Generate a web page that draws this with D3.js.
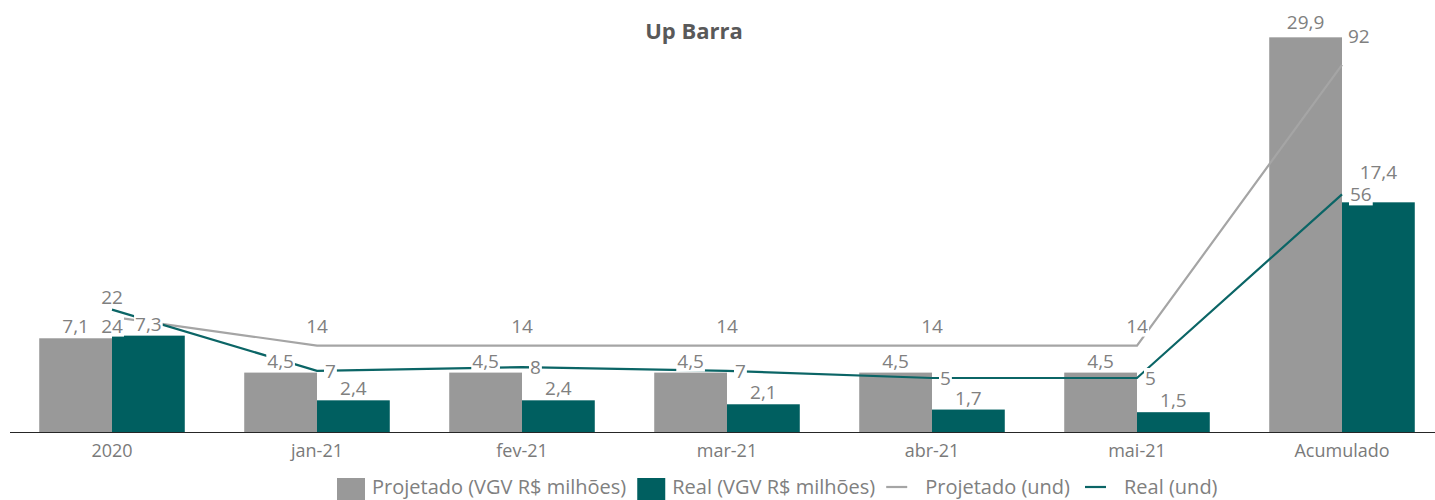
<!DOCTYPE html>
<html>
<head>
<meta charset="utf-8">
<script src="https://cdn.jsdelivr.net/npm/d3@7"></script>
<style>
  body { margin: 0; background: #fff; }
  svg text { font-family: "Open Sans", sans-serif; }
</style>
</head>
<body>
<svg width="1435" height="500"></svg>
<script>
const categories = ['2020', 'jan-21', 'fev-21', 'mar-21', 'abr-21', 'mai-21', 'Acumulado'];
const projetadoVgv = [7.1, 4.5, 4.5, 4.5, 4.5, 4.5, 29.9];
const realVgv = [7.3, 2.4, 2.4, 2.1, 1.7, 1.5, 17.4];
const projetadoUnd = [22, 14, 14, 14, 14, 14, 92];
const realUnd = [24, 7, 8, 7, 5, 5, 56];
const legendLabels = ['Projetado (VGV R$ milhões)', 'Real (VGV R$ milhões)', 'Projetado (und)', 'Real (und)'];

const svg = d3.select('svg');
const width = +svg.attr('width');

const grayBar = '#999999';
const tealBar = '#005f60';
const grayLine = '#a5a5a5';
const tealLine = '#0b6566';
const labelColor = '#808080';

const fmt = v => String(v).replace('.', ',');

const xScale = d3.scaleBand()
  .domain(categories)
  .range([9.5, 1444.5])
  .paddingInner(0.29)
  .paddingOuter(0.145);

const x1 = d3.scaleBand()
  .domain(['proj', 'real'])
  .range([0, xScale.bandwidth()]);

const yBar = d3.scaleLinear().domain([0, 30]).range([432, 36]);
const yLine = d3.scaleLinear().domain([-10, 100]).range([432, 36]);

const center = d => xScale(d) + xScale.bandwidth() / 2;

// title
svg.append('text')
  .attr('x', 694).attr('y', 39)
  .attr('text-anchor', 'middle')
  .attr('font-size', 22).attr('font-weight', 'bold')
  .attr('fill', '#595959')
  .text('Up Barra');

// bars
const g = svg.append('g');
g.selectAll('.bar-proj').data(categories).enter().append('rect')
  .attr('x', d => xScale(d) + x1('proj'))
  .attr('width', x1.bandwidth())
  .attr('y', (d, i) => yBar(projetadoVgv[i]))
  .attr('height', (d, i) => yBar(0) - yBar(projetadoVgv[i]))
  .attr('fill', grayBar);

g.selectAll('.bar-real').data(categories).enter().append('rect')
  .attr('x', d => xScale(d) + x1('real'))
  .attr('width', x1.bandwidth())
  .attr('y', (d, i) => yBar(realVgv[i]))
  .attr('height', (d, i) => yBar(0) - yBar(realVgv[i]))
  .attr('fill', tealBar);

// x axis
const xAxis = d3.axisBottom(xScale).tickSize(0).tickPadding(12);
const xAxisGroup = g.append('g').attr('transform', `translate(0, ${yBar(0)})`).call(xAxis);
xAxisGroup.select('.domain').attr('stroke', '#262626').attr('d', `M10,0.5H${width}`);
xAxisGroup.selectAll('text')
  .style('font-family', '"Open Sans", sans-serif')
  .attr('font-size', 18)
  .attr('fill', '#7a7a7a');

// lines
const lineGen = values => d3.line()
  .x((d, i) => center(categories[i]))
  .y(d => yLine(d))(values);

g.append('path').attr('d', lineGen(projetadoUnd))
  .attr('fill', 'none').attr('stroke', grayLine).attr('stroke-width', 2.2);
g.append('path').attr('d', lineGen(realUnd))
  .attr('fill', 'none').attr('stroke', tealLine).attr('stroke-width', 2.2);

// labels with white background
const labels = svg.append('g');
function addLabel(x, y, text, anchor) {
  const grp = labels.append('g');
  const t = grp.append('text')
    .attr('x', x).attr('y', y)
    .attr('text-anchor', anchor || 'middle')
    .attr('font-size', 19)
    .attr('fill', labelColor)
    .text(text);
  const b = t.node().getBBox();
  grp.insert('rect', 'text')
    .attr('x', b.x - 1).attr('y', b.y + 3)
    .attr('width', b.width + 2).attr('height', b.height - 5)
    .attr('fill', '#fff');
}

categories.forEach((c, i) => {
  const liftP = c === 'Acumulado' ? 3 : 0;
  addLabel(xScale(c) + x1('proj') + x1.bandwidth() / 2, yBar(projetadoVgv[i]) - 5 - liftP, fmt(projetadoVgv[i]));
  const lift = c === 'Acumulado' ? 18 : 0;
  addLabel(xScale(c) + x1('real') + x1.bandwidth() / 2, yBar(realVgv[i]) - 5 - lift, fmt(realVgv[i]));
});

categories.forEach((c, i) => {
  if (c === 'Acumulado') {
    addLabel(center(c) + 6, yLine(projetadoUnd[i]) - 22, fmt(projetadoUnd[i]), 'start');
  } else {
    addLabel(center(c), yLine(projetadoUnd[i]) - 13, fmt(projetadoUnd[i]));
  }
});

categories.forEach((c, i) => {
  if (c === '2020') {
    addLabel(center(c), yLine(realUnd[i]) + 23, fmt(realUnd[i]));
  } else {
    addLabel(center(c) + 8, yLine(realUnd[i]) + 7, fmt(realUnd[i]), 'start');
  }
});

// legend
const legend = svg.append('g').attr('transform', 'translate(337, 494)');
const legendColors = [grayBar, tealBar, grayLine, tealLine];
let lx = 0;
legendLabels.forEach((lab, i) => {
  const item = legend.append('g').attr('transform', `translate(${lx}, 0)`);
  const isBar = i < 2;
  if (isBar) {
    item.append('rect').attr('x', 0).attr('y', -16).attr('width', 28).attr('height', 24)
      .attr('fill', legendColors[i]);
  } else {
    item.append('line').attr('x1', 0).attr('x2', 21).attr('y1', -7).attr('y2', -7)
      .attr('stroke', legendColors[i]).attr('stroke-width', 2.2);
  }
  const tx = isBar ? 35 : 39;
  const t = item.append('text').attr('x', tx).attr('y', 0)
    .attr('font-size', 20).attr('fill', labelColor).text(lab);
  lx += tx + t.node().getComputedTextLength() + (isBar ? 11 : 15);
});
</script>
</body>
</html>
